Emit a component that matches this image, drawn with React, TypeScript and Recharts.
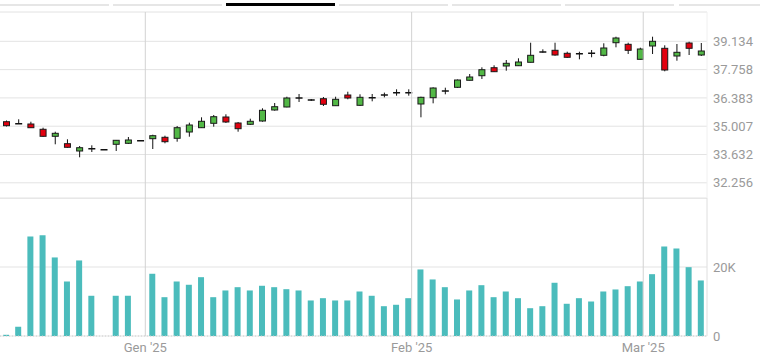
import React from 'react'
import {
  ComposedChart,
  BarChart,
  Bar,
  XAxis,
  YAxis,
  CartesianGrid,
  ReferenceLine,
} from 'recharts'

// daily FTSE MIB candles, Dec '24 - Mar '25
const openVals = [
  35226, 35130, 35114, 34857, 34516, 34157, 33802, 33914, 33865, 34128,
  34176, 34303, 34400, 34468, 34419, 34725, 34935, 35148, 35455, 35163,
  35100, 35260, 35795, 35941, 36378, 36285, 36344, 36004, 36524, 36023,
  36393, 36524, 36636, 36636, 36087, 36393, 36718, 36898, 37239, 37462,
  37851, 37934, 37948, 38114, 38614, 38697, 38551, 38532, 38551, 38454,
  39066, 38988, 38259, 38906, 38794, 38420, 39052, 38468,
]
const highVals = [
  35284, 35343, 35226, 34935, 34740, 34371, 34045, 34079, 33865, 34337,
  34482, 34303, 34594, 34546, 35017, 35178, 35440, 35552, 35586, 35212,
  35372, 35877, 36135, 36441, 36573, 36330, 36427, 36441, 36684, 36558,
  36573, 36640, 36801, 36801, 36441, 36898, 36879, 37278, 37545, 37870,
  37968, 38225, 38308, 39066, 38745, 39066, 38629, 38629, 38712, 39037,
  39358, 39066, 38823, 39358, 38940, 39003, 39115, 39052,
]
const lowVals = [
  34993, 35130, 34920, 34492, 34128, 33957, 33496, 33753, 33865, 33802,
  34142, 34303, 33899, 34176, 34254, 34497, 34920, 34983, 35163, 34740,
  35066, 35226, 35761, 35926, 36184, 36232, 35989, 36004, 36315, 35989,
  36218, 36410, 36490, 36490, 35440, 36120, 36558, 36864, 37229, 37302,
  37642, 37705, 37934, 38104, 38580, 38434, 38323, 38259, 38357, 38405,
  38843, 38517, 38250, 38517, 37676, 38191, 38468, 38420,
]
const closeVals = [
  35032, 35130, 34934, 34516, 34662, 33982, 33962, 33914, 33865, 34322,
  34337, 34303, 34546, 34254, 34935, 35066, 35246, 35469, 35212, 34886,
  35246, 35780, 35955, 36378, 36378, 36285, 36072, 36315, 36378, 36412,
  36393, 36524, 36636, 36636, 36412, 36864, 36718, 37253, 37399, 37754,
  37657, 38065, 38128, 38454, 38614, 38468, 38357, 38532, 38551, 38809,
  39295, 38697, 38760, 39134, 37739, 38600, 38794, 38663,
]
const volumes = [
  350, 2670, 28850, 29230, 22770, 15800, 21900, 11660, 0, 11660,
  11660, 0, 18040, 11250, 15800, 14850, 17050, 11250, 13200, 14150,
  13200, 14560, 14150, 13570, 13200, 10300, 10960, 10300, 10300, 12900,
  11660, 8640, 9050, 10960, 19290, 16390, 14150, 10590, 13200, 14730,
  11250, 12900, 10960, 8060, 8640, 15430, 9340, 10960, 10000, 12900,
  13490, 14440, 15800, 17920, 25960, 25380, 19950, 16100,
]

const monthTicks = [11.42, 33.27, 52.27]
const monthLabels = ["Gen '25", "Feb '25", "Mar '25"]
const priceTicks = [32256, 33632, 35007, 36383, 37758, 39134]
const volumeTicks = [0, 20000]

const priceMin = 31517
const priceMax = 40559
const volMax = 40000

const data = openVals.map((open, i) => ({
  i,
  open,
  high: highVals[i],
  low: lowVals[i],
  close: closeVals[i],
  volume: volumes[i],
}))

const fmtPrice = (v: number) => String(v).replace(/\B(?=(\d{3})+(?!\d))/g, '.')
const fmtVol = (v: number) => (v === 0 ? '0' : `${v / 1000}K`)
const fmtMonth = (v: number) => monthLabels[monthTicks.indexOf(v)] ?? ''

const axisTick = { fill: '#9a9a9a', fontSize: 13 }

const Candle = (props: any) => {
  const { x, y, width, height, payload } = props
  const { open, close, high, low } = payload
  const mid = x + width / 2
  const k = high > low ? height / (high - low) : 0
  const py = (v: number) => y + (high - v) * k
  const top = py(Math.max(open, close))
  const bottom = py(Math.min(open, close))
  if (open === close) {
    return (
      <g>
        <line x1={mid} x2={mid} y1={y} y2={y + height} stroke="#111" />
        <line x1={x} x2={x + width} y1={top} y2={top} stroke="#111" strokeWidth={1.5} />
      </g>
    )
  }
  const fill = close > open ? '#52b846' : '#e3000f'
  return (
    <g>
      <line x1={mid} x2={mid} y1={y} y2={y + height} stroke="#111" />
      <rect
        x={x + 0.5}
        y={top}
        width={width - 1}
        height={Math.max(bottom - top, 1)}
        fill={fill}
        stroke="#1a1a1a"
      />
    </g>
  )
}

// range selector underlines (third one active)
const tabs = [0, 1, 2, 3, 4, 5, 6]

export default function App() {
  return (
    <div
      style={{
        position: 'absolute',
        left: 0,
        top: 0,
        width: 760,
        height: 364,
        background: '#fff',
        fontFamily: 'Roboto, sans-serif',
        overflow: 'hidden',
      }}
    >
      <div style={{ position: 'absolute', left: 0, top: 0, width: 800, display: 'flex' }}>
        {tabs.map((t) => (
          <div key={t} style={{ width: 113.1, flex: 'none' }}>
            <div
              style={{
                width: 109,
                marginTop: t === 2 ? 3 : 4,
                height: t === 2 ? 3 : 2,
                background: t === 2 ? '#000' : '#e6e6e6',
              }}
            />
          </div>
        ))}
      </div>

      <div style={{ position: 'absolute', left: 0, top: 0 }}>
        <ComposedChart
          width={760}
          height={198}
          data={data}
          margin={{ top: 12, right: 0, left: 0, bottom: 0 }}
        >
          <CartesianGrid vertical={false} stroke="#e3e3e3" />
          <XAxis
            dataKey="i"
            type="number"
            domain={[-0.5, 57.5]}
            ticks={monthTicks}
            height={0}
            tick={false}
            axisLine={false}
            tickLine={false}
          />
          <YAxis
            orientation="right"
            width={53}
            domain={[priceMin, priceMax]}
            allowDataOverflow
            ticks={priceTicks}
            tickFormatter={fmtPrice}
            tick={axisTick}
            tickSize={4}
            tickMargin={2}
            axisLine={false}
            tickLine={false}
          />
          <ReferenceLine y={priceMax} stroke="#f0f0f0" />
          <ReferenceLine x={57.5} stroke="#f0f0f0" />
          {monthTicks.map((m) => (
            <ReferenceLine key={m} x={m} stroke="#d2d2d2" />
          ))}
          <Bar
            dataKey={(d: any) => [d.low, d.high]}
            barSize={7}
            shape={<Candle />}
            isAnimationActive={false}
          />
        </ComposedChart>
      </div>

      <div style={{ position: 'absolute', left: 0, top: 198 }}>
        <BarChart
          width={760}
          height={166}
          data={data}
          margin={{ top: 0, right: 0, left: 0, bottom: 0 }}
        >
          <CartesianGrid vertical={false} stroke="#e3e3e3" />
          <XAxis
            dataKey="i"
            type="number"
            domain={[-0.5, 57.5]}
            ticks={monthTicks}
            tickFormatter={fmtMonth}
            height={28}
            tick={axisTick}
            tickSize={5}
            tickMargin={2}
            tickLine={false}
            axisLine={{ stroke: '#cfcfcf', strokeDasharray: '1 2' }}
          />
          <YAxis
            orientation="right"
            width={53}
            domain={[0, volMax]}
            allowDataOverflow
            ticks={volumeTicks}
            tickFormatter={fmtVol}
            tick={axisTick}
            tickSize={4}
            tickMargin={2}
            axisLine={false}
            tickLine={false}
          />
          <ReferenceLine y={volMax} stroke="#dedede" />
          <ReferenceLine x={57.5} stroke="#dedede" />
          {monthTicks.map((m) => (
            <ReferenceLine key={m} x={m} stroke="#d2d2d2" />
          ))}
          <Bar dataKey="volume" fill="#4bbcbc" barSize={6} isAnimationActive={false} />
        </BarChart>
      </div>
    </div>
  )
}
